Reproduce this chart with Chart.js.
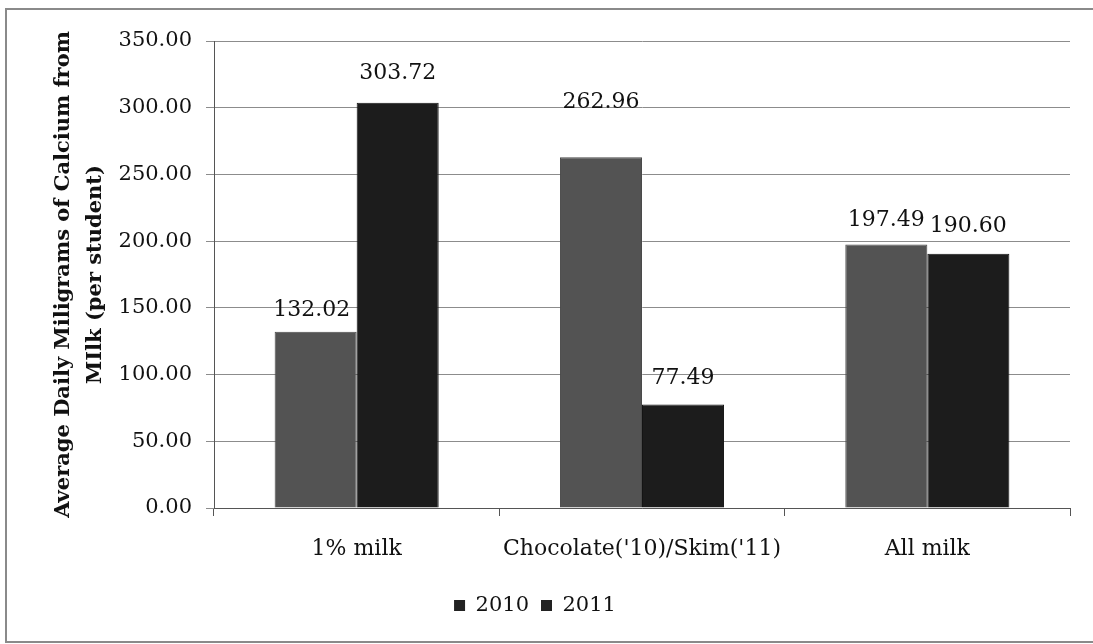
<!DOCTYPE html>
<html>
<head>
<meta charset="utf-8">
<script src="https://cdn.jsdelivr.net/npm/chart.js@4.4.1/dist/chart.umd.min.js"></script>
<style>
  html, body { margin: 0; padding: 0; background: #fff; }
  #wrap { position: relative; width: 1093px; height: 644px; }
</style>
</head>
<body>
<div id="wrap"><canvas id="c" width="1093" height="644"></canvas></div>
<script>
// Average daily calcium from milk, per student
const categories = ['1% milk', "Chocolate('10)/Skim('11)", 'All milk'];
const series2010 = [132.02, 262.96, 197.49];
const series2011 = [303.72, 77.49, 190.60];
const seriesNames = ['2010', '2011'];
const yTitleLines = ['Average Daily Miligrams of Calcium from', 'MIlk (per student)'];

const FONT = "'DejaVu Serif', serif";
const INK = '#111';

// value labels above each bar
const valueLabels = {
  id: 'valueLabels',
  afterDatasetsDraw(chart, args, opts) {
    const ctx = chart.ctx;
    ctx.save();
    ctx.font = '22px ' + FONT;
    ctx.fillStyle = INK;
    ctx.textAlign = 'center';
    ctx.textBaseline = 'middle';
    chart.data.datasets.forEach((ds, di) => {
      const meta = chart.getDatasetMeta(di);
      meta.data.forEach((bar, i) => {
        const lift = (opts.lift[di] && opts.lift[di][i]) || 25;
        const dx = (opts.shift[di] && opts.shift[di][i]) || 0;
        ctx.fillText(ds.data[i].toFixed(2), bar.x + dx, bar.y - lift);
      });
    });
    ctx.restore();
  }
};

// outer frame of the chart
const frame = {
  id: 'frame',
  beforeDraw(chart) {
    const ctx = chart.ctx;
    ctx.save();
    ctx.strokeStyle = '#8a8a8a';
    ctx.lineWidth = 2;
    ctx.beginPath();
    ctx.moveTo(1093, 9); ctx.lineTo(6, 9); ctx.lineTo(6, 642); ctx.lineTo(1093, 642);
    ctx.stroke();
    ctx.restore();
  }
};

new Chart(document.getElementById('c'), {
  type: 'bar',
  data: {
    labels: categories,
    datasets: [
      { label: seriesNames[0], data: series2010, backgroundColor: '#535353', borderColor: '#4a4a4a', borderWidth: 1 },
      { label: seriesNames[1], data: series2011, backgroundColor: '#1c1c1c', borderColor: '#141414', borderWidth: 1 }
    ]
  },
  options: {
    responsive: false,
    animation: false,
    layout: { padding: { top: 41, right: 23, bottom: 18, left: 0 } },
    datasets: { bar: { categoryPercentage: 0.575, barPercentage: 1.0 } },
    scales: {
      x: {
        afterFit(scale) { scale.height = 75; },
        grid: { display: true, drawOnChartArea: false, offset: true, tickLength: 8, color: '#555', lineWidth: 1 },
        border: { color: '#555', width: 1 },
        ticks: { color: INK, font: { family: FONT, size: 22 }, padding: 20, maxRotation: 0 }
      },
      y: {
        min: 0, max: 350,
        afterFit(scale) { scale.width = 214; },
        ticks: {
          stepSize: 50, color: INK, font: { family: FONT, size: 21 }, padding: 14,
          callback: v => Number(v).toFixed(2)
        },
        grid: { color: '#8c8c8c', lineWidth: 1, tickLength: 8 },
        border: { color: '#555', width: 1 },
        title: {
          display: true, text: yTitleLines, color: INK,
          font: { family: FONT, size: 21, weight: 'bold', lineHeight: 1.55 },
          padding: { top: 47, bottom: 0 }
        }
      }
    },
    plugins: {
      legend: {
        position: 'bottom',
        labels: {
          color: INK, font: { family: FONT, size: 21 },
          boxWidth: 11, boxHeight: 11, padding: 12,
          generateLabels(chart) {
            return chart.data.datasets.map((ds, i) => ({
              text: ds.label, fillStyle: '#222', strokeStyle: '#222', lineWidth: 0, datasetIndex: i, fontColor: INK
            }));
          }
        }
      },
      tooltip: { enabled: false },
      valueLabels: { lift: [[22, 55, 24], [29, 26, 27]], shift: [[-4, 0, 0], [0, 0, 0]] }
    }
  },
  plugins: [frame, valueLabels]
});
</script>
</body>
</html>
